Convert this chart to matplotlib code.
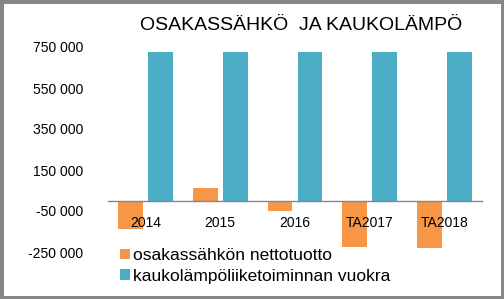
import matplotlib
matplotlib.use("Agg")
import matplotlib.pyplot as plt
from matplotlib.patches import Rectangle
import numpy as np

years = ["2014", "2015", "2016", "TA2017", "TA2018"]
nettotuotto = [-137000, 64000, -52000, -224000, -229000]
vuokra = [726000, 726000, 726000, 726000, 726000]
yticks = [-250000, -50000, 150000, 350000, 550000, 750000]

orange = "#F79646"
teal = "#4BACC6"

plt.rcParams["font.family"] = ["Liberation Sans", "DejaVu Sans"]

fig = plt.figure(figsize=(5.04, 2.99), dpi=100)
ax = fig.add_axes([108 / 504, 1 - 252 / 299, 374 / 504, 205 / 299])

x = np.arange(len(years))
w = 0.33
ax.bar(x - 0.2, nettotuotto, w, color=orange, label="osakassähkön nettotuotto")
ax.bar(x + 0.2, vuokra, w, color=teal, label="kaukolämpöliiketoiminnan vuokra")

ax.set_xlim(-0.5, len(years) - 0.5)
ax.set_ylim(-250000, 750000)
ax.set_yticks(yticks)
ax.set_yticklabels([f"{v:,}".replace(",", " ") for v in yticks], fontsize=10)
ax.set_xticks(x)
ax.set_xticklabels(years, fontsize=12.5)

for s in ["top", "right", "left"]:
    ax.spines[s].set_visible(False)
ax.spines["bottom"].set_position(("data", 0))
ax.spines["bottom"].set_color("#868686")
ax.spines["bottom"].set_linewidth(1)
ax.tick_params(axis="x", length=0, pad=11)
ax.tick_params(axis="y", length=0, pad=18)

fig.text(301 / 504, 1 - 26 / 299, "OSAKASSÄHKÖ  JA KAUKOLÄMPÖ",
         fontsize=14, ha="center", va="center")

fig.legend(loc="center left", bbox_to_anchor=(120 / 504, 1 - 266 / 299),
           frameon=False, fontsize=12.5, handlelength=0.55, handleheight=0.55,
           handletextpad=0.2, labelspacing=0.32, borderpad=0, borderaxespad=0)

fig.patches.append(Rectangle((0, 0), 1, 1, transform=fig.transFigure, fill=False,
                             edgecolor="#868686", linewidth=5, clip_on=False))

fig.savefig("out.png", dpi=100)
